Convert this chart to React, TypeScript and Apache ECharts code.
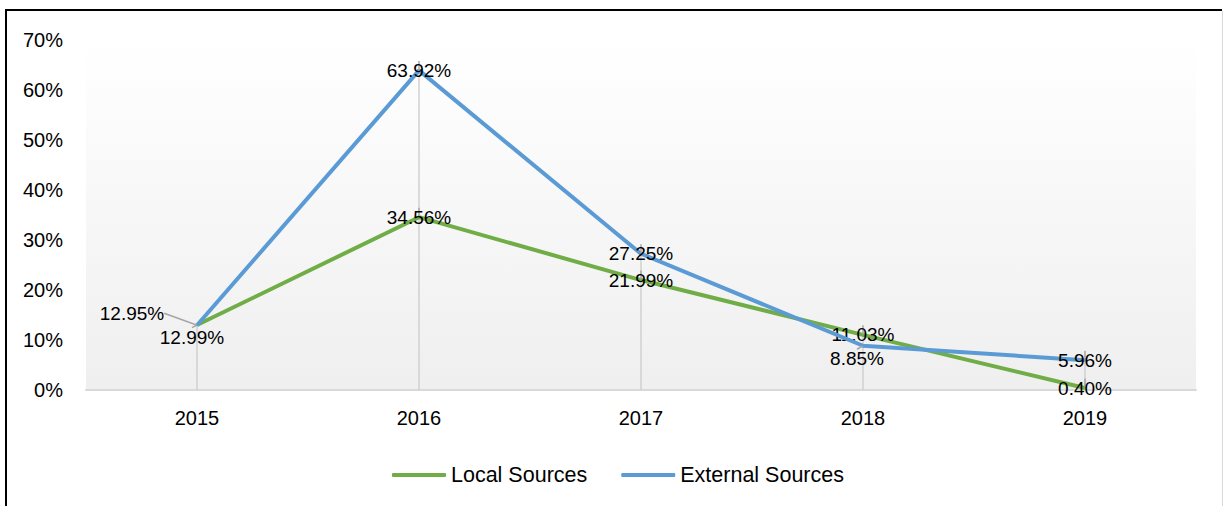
import React, { useEffect, useRef } from "react";
import * as echarts from "echarts";

const years = ["2015", "2016", "2017", "2018", "2019"];
const localSources = [12.99, 34.56, 21.99, 11.03, 0.4];
const externalSources = [12.95, 63.92, 27.25, 8.85, 5.96];
const yTicks = { min: 0, max: 70, interval: 10 };

const dropValues = years.map((_, i) => Math.max(localSources[i], externalSources[i]));

// label shifts (style only)
const localShift: Record<number, [number, number]> = { 0: [-5, 12] };
const externalShift: Record<number, [number, number]> = { 0: [-65, -12], 3: [-6, 13] };

const FONT = "'Liberation Sans', Arial, sans-serif";

export default function App() {
  const ref = useRef<HTMLDivElement>(null);
  useEffect(() => {
    document.body.style.margin = "0";
    if (!ref.current) return;
    const chart = echarts.init(ref.current, null, { renderer: "svg" });
    const labelCfg = {
      show: true,
      position: "inside",
      color: "#000",
      fontSize: 19,
      fontFamily: FONT,
      formatter: (p: any) => Number(p.value).toFixed(2) + "%",
    };
    chart.setOption({
      animation: false,
      backgroundColor: "#fff",
      textStyle: { fontFamily: FONT },
      grid: {
        left: 86,
        right: 28,
        top: 40,
        bottom: 116,
        show: true,
        borderWidth: 0,
        backgroundColor: new echarts.graphic.LinearGradient(0, 0, 0, 1, [
          { offset: 0, color: "#ffffff" },
          { offset: 1, color: "#efefef" },
        ]),
      },
      legend: {
        left: 387,
        top: 459,
        data: ["Local Sources", "External Sources"],
        icon: "roundRect",
        itemWidth: 54,
        itemHeight: 4,
        itemGap: 34,
        textStyle: { fontSize: 21.5, color: "#000", fontFamily: FONT },
      },
      xAxis: {
        type: "category",
        data: years,
        boundaryGap: true,
        axisLine: { lineStyle: { color: "#d9d9d9", width: 2 } },
        axisTick: { show: false },
        axisLabel: { color: "#000", fontSize: 20, margin: 18, fontFamily: FONT },
        splitLine: { show: false },
      },
      yAxis: {
        type: "value",
        min: yTicks.min,
        max: yTicks.max,
        interval: yTicks.interval,
        axisLine: { show: false },
        axisTick: { show: false },
        splitLine: { show: false },
        axisLabel: { color: "#000", fontSize: 20, margin: 23, formatter: "{value}%", fontFamily: FONT },
      },
      graphic: [
        { type: "line", shape: { x1: 6, y1: 10, x2: 1222, y2: 10 }, style: { stroke: "#000", lineWidth: 2 }, silent: true },
        { type: "line", shape: { x1: 6, y1: 9, x2: 6, y2: 506 }, style: { stroke: "#000", lineWidth: 2 }, silent: true },
        { type: "line", shape: { x1: 1222.5, y1: 11, x2: 1222.5, y2: 506 }, style: { stroke: "#d9d9d9", lineWidth: 1 }, silent: true },
      ],
      series: [
        {
          name: "drop",
          type: "bar",
          data: dropValues,
          barWidth: 1.5,
          itemStyle: { color: "#d0d0d0" },
          silent: true,
          z: 1,
        },
        {
          name: "Local Sources",
          type: "line",
          data: localSources,
          color: "#70AD47",
          lineStyle: { width: 4, color: "#70AD47" },
          symbol: "circle",
          symbolSize: 1,
          showSymbol: true,
          itemStyle: { color: "#70AD47" },
          label: labelCfg,
          labelLine: { show: true, lineStyle: { color: "#a6a6a6", width: 1.5 } },
          labelLayout: (p: any) => {
            const s = localShift[p.dataIndex];
            return s ? { dx: s[0], dy: s[1] } : {};
          },
          z: 3,
        },
        {
          name: "External Sources",
          type: "line",
          data: externalSources,
          color: "#5B9BD5",
          lineStyle: { width: 4, color: "#5B9BD5" },
          symbol: "circle",
          symbolSize: 1,
          showSymbol: true,
          itemStyle: { color: "#5B9BD5" },
          label: labelCfg,
          labelLine: { show: true, lineStyle: { color: "#a6a6a6", width: 1.5 } },
          labelLayout: (p: any) => {
            const s = externalShift[p.dataIndex];
            return s ? { dx: s[0], dy: s[1] } : {};
          },
          z: 4,
        },
      ],
    });
    return () => chart.dispose();
  }, []);
  return <div ref={ref} style={{ width: 1224, height: 506 }} />;
}
